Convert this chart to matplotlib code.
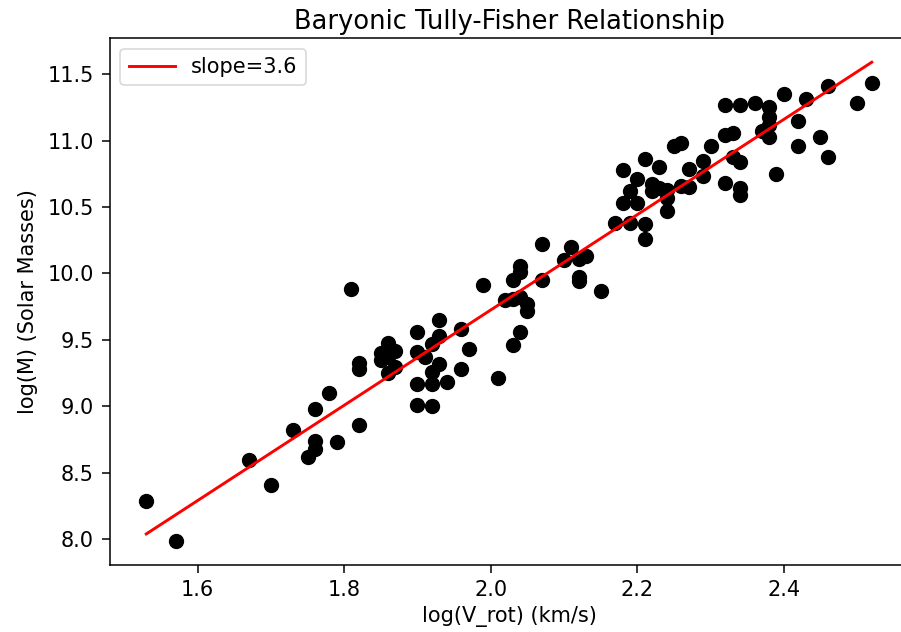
import matplotlib
matplotlib.use("Agg")
import matplotlib.pyplot as plt

# log rotation velocity and log baryonic mass
log_v = [1.53, 1.57, 1.67, 1.70, 1.73, 1.75, 1.76, 1.76, 1.76, 1.78,
         1.79, 1.81, 1.82, 1.82, 1.82, 1.85, 1.85, 1.86, 1.86, 1.86,
         1.87, 1.87, 1.90, 1.90, 1.90, 1.90, 1.91, 1.92, 1.92, 1.92,
         1.92, 1.93, 1.93, 1.93, 1.94, 1.96, 1.96, 1.97, 1.99, 2.01,
         2.02, 2.03, 2.03, 2.03, 2.04, 2.04, 2.04, 2.04, 2.05, 2.05,
         2.07, 2.07, 2.10, 2.11, 2.12, 2.12, 2.12, 2.13, 2.15, 2.17,
         2.18, 2.18, 2.19, 2.19, 2.20, 2.20, 2.21, 2.21, 2.21, 2.22,
         2.22, 2.23, 2.23, 2.24, 2.24, 2.24, 2.25, 2.26, 2.26, 2.27,
         2.27, 2.29, 2.29, 2.30, 2.32, 2.32, 2.32, 2.33, 2.33, 2.34,
         2.34, 2.34, 2.34, 2.36, 2.37, 2.38, 2.38, 2.38, 2.38, 2.39,
         2.40, 2.42, 2.42, 2.43, 2.45, 2.46, 2.46, 2.50, 2.52]
log_m = [8.29, 7.99, 8.60, 8.41, 8.82, 8.62, 8.74, 8.68, 8.98, 9.10,
         8.73, 9.88, 8.86, 9.33, 9.28, 9.40, 9.35, 9.48, 9.37, 9.25,
         9.42, 9.30, 9.56, 9.41, 9.17, 9.01, 9.37, 9.47, 9.26, 9.17,
         9.00, 9.65, 9.53, 9.32, 9.18, 9.58, 9.28, 9.43, 9.91, 9.21,
         9.80, 9.81, 9.95, 9.46, 10.06, 10.01, 9.82, 9.56, 9.77, 9.72,
         10.22, 9.95, 10.10, 10.20, 10.11, 9.97, 9.94, 10.13, 9.87, 10.38,
         10.78, 10.53, 10.38, 10.62, 10.71, 10.53, 10.86, 10.37, 10.26, 10.67,
         10.62, 10.80, 10.64, 10.63, 10.57, 10.47, 10.96, 10.98, 10.66, 10.79,
         10.65, 10.85, 10.73, 10.96, 11.27, 11.04, 10.68, 11.06, 10.88, 11.27,
         10.84, 10.64, 10.59, 11.28, 11.07, 11.25, 11.18, 11.12, 11.03, 10.75,
         11.35, 11.15, 10.96, 11.31, 11.03, 11.41, 10.88, 11.28, 11.43]

# fitted line end points
fit_x = [1.53, 2.52]
fit_y = [8.04, 11.59]
fit_label = "slope=3.6"

fig = plt.figure(figsize=(9.01, 6.32), dpi=100)
# right spine falls just outside the figure, as in the cropped original
ax = fig.add_axes([0.1221, 0.1068, 0.8857, 0.8326])

ax.scatter(log_v, log_m, s=100, c="k")
ax.plot(fit_x, fit_y, color="red", linewidth=2.1, label=fit_label)

ax.set_title("Baryonic Tully-Fisher Relationship", fontsize=18.5, pad=7)
ax.set_xlabel("log(V_rot) (km/s)", fontsize=15, labelpad=4)
ax.set_ylabel("log(M) (Solar Masses)", fontsize=15, labelpad=7)
ax.set_xticks([1.6, 1.8, 2.0, 2.2, 2.4])
ax.set_yticks([8.0, 8.5, 9.0, 9.5, 10.0, 10.5, 11.0, 11.5])
ax.tick_params(labelsize=15, length=5.5, width=1.1, pad=6)
for sp in ax.spines.values():
    sp.set_linewidth(1.1)

leg = ax.legend(loc="upper left", fontsize=15, handlelength=2.2)
leg.get_frame().set_linewidth(1.1)

fig.savefig("out.png", dpi=100)
